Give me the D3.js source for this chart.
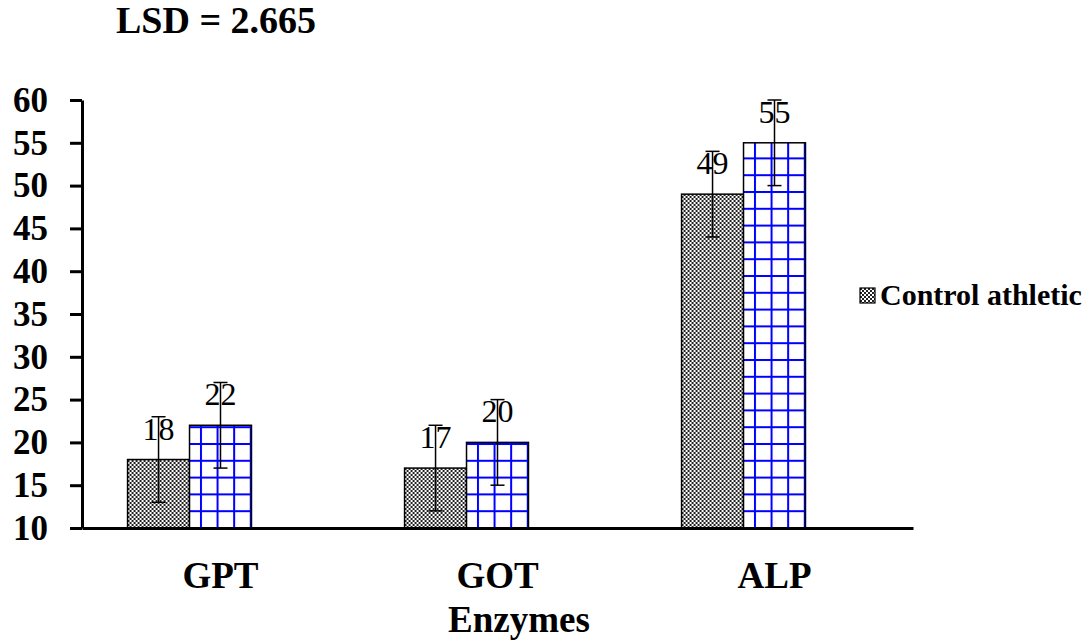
<!DOCTYPE html>
<html>
<head>
<meta charset="utf-8">
<script src="https://cdn.jsdelivr.net/npm/d3@7"></script>
<style>
  body { margin: 0; background: #fff; }
  svg { display: block; font-family: "Liberation Serif", "Times New Roman", serif; }
</style>
</head>
<body>
<div id="chart"></div>
<script>
// chart data
const categories = ["GPT", "GOT", "ALP"]
const controlValues = [18, 17, 49]
const athleticValues = [22, 20, 55]
const errorValues = [5, 5, 5]
const yTicks = [10, 15, 20, 25, 30, 35, 40, 45, 50, 55, 60]
const legendLabel = "Control athletic"
const titleText = "LSD = 2.665"
const xTitle = "Enzymes"

const width = 1091
const height = 642

const svg = d3.select("#chart")
  .append("svg")
  .attr("width", width)
  .attr("height", height)

const defs = svg.append("defs")

// checkerboard fill for control bars
const checker = defs.append("pattern")
  .attr("id", "checker")
  .attr("patternUnits", "userSpaceOnUse")
  .attr("width", 4)
  .attr("height", 4)
checker.append("rect").attr("width", 4).attr("height", 4).attr("fill", "#fff")
checker.append("rect").attr("width", 2).attr("height", 2).attr("fill", "#222")
checker.append("rect").attr("x", 2).attr("y", 2).attr("width", 2).attr("height", 2).attr("fill", "#222")

// blue grid fill for athletic bars
const grid = defs.append("pattern")
  .attr("id", "bluegrid")
  .attr("patternUnits", "userSpaceOnUse")
  .attr("x", 6)
  .attr("y", 527 % 16.8)
  .attr("width", 16.6)
  .attr("height", 16.8)
grid.append("rect").attr("width", 16.6).attr("height", 16.8).attr("fill", "#fff")
grid.append("rect").attr("x", 0).attr("y", 0).attr("width", 2).attr("height", 16.8).attr("fill", "#0000ff")
grid.append("rect").attr("x", 0).attr("y", 0).attr("width", 16.6).attr("height", 2).attr("fill", "#0000ff")

// scales
const y = d3.scaleLinear().domain([10, 60]).range([528, 100])

const x0 = d3.scaleBand()
  .domain(categories)
  .range([82, 913])
  .paddingInner(0.329)
  .paddingOuter(0.1645)

// three slots per category, the last one is empty
const x1 = d3.scaleBand().domain([0, 1, 2]).range([0, x0.bandwidth()])

const rows = categories.map((c, i) => ({
  cat: c,
  control: controlValues[i],
  athletic: athleticValues[i],
  err: errorValues[i]
}))

// bars
const group = svg.selectAll(".cat")
  .data(rows)
  .enter()
  .append("g")
  .attr("transform", d => `translate(${x0(d.cat)},0)`)

const bars = group.selectAll("rect")
  .data(d => [
    { slot: 0, value: d.control, err: d.err, fill: "url(#checker)" },
    { slot: 1, value: d.athletic, err: d.err, fill: "url(#bluegrid)" }
  ])
  .enter()

bars.append("rect")
  .attr("x", d => x1(d.slot))
  .attr("y", d => y(d.value))
  .attr("width", x1.bandwidth())
  .attr("height", d => y(10) - y(d.value))
  .attr("fill", d => d.fill)
  .attr("stroke", "#000")
  .attr("stroke-width", 1.5)

// value labels
bars.append("text")
  .attr("x", d => x1(d.slot) + x1.bandwidth() / 2)
  .attr("y", d => y(d.value) - 20)
  .attr("text-anchor", "middle")
  .attr("font-size", "32px")
  .attr("fill", "#000")
  .text(d => d.value)

// error bars
const errG = bars.append("g")
  .attr("stroke", "#000")
  .attr("stroke-width", 1.5)
errG.append("line")
  .attr("x1", d => x1(d.slot) + x1.bandwidth() / 2)
  .attr("x2", d => x1(d.slot) + x1.bandwidth() / 2)
  .attr("y1", d => y(d.value - d.err))
  .attr("y2", d => y(d.value + d.err))
errG.append("line")
  .attr("x1", d => x1(d.slot) + x1.bandwidth() / 2 - 7)
  .attr("x2", d => x1(d.slot) + x1.bandwidth() / 2 + 7)
  .attr("y1", d => y(d.value - d.err))
  .attr("y2", d => y(d.value - d.err))
errG.append("line")
  .attr("x1", d => x1(d.slot) + x1.bandwidth() / 2 - 7)
  .attr("x2", d => x1(d.slot) + x1.bandwidth() / 2 + 7)
  .attr("y1", d => y(d.value + d.err))
  .attr("y2", d => y(d.value + d.err))

// y axis
const yAxis = d3.axisLeft(y)
  .tickValues(yTicks)
  .tickSize(12)
  .tickSizeOuter(0)
  .tickPadding(22)

const yG = svg.append("g")
  .attr("transform", "translate(82,0)")
  .call(yAxis)
yG.select(".domain").attr("stroke", "#000").attr("stroke-width", 3)
yG.selectAll(".tick line").attr("stroke", "#000").attr("stroke-width", 3)
yG.selectAll(".tick text")
  .attr("font-family", "Liberation Serif, serif")
  .attr("font-size", "35px")
  .attr("font-weight", "bold")
  .attr("fill", "#000")

// x axis (no ticks)
const xAxis = d3.axisBottom(x0).tickSize(0).tickSizeOuter(0).tickPadding(34)
const xG = svg.append("g")
  .attr("transform", `translate(0,${y(10)})`)
  .call(xAxis)
xG.select(".domain").attr("stroke", "#000").attr("stroke-width", 3)
xG.selectAll(".tick text")
  .attr("font-family", "Liberation Serif, serif")
  .attr("font-size", "37px")
  .attr("font-weight", "bold")
  .attr("fill", "#000")

// axis title
svg.append("text")
  .attr("x", 519)
  .attr("y", 632)
  .attr("text-anchor", "middle")
  .attr("font-size", "37px")
  .attr("font-weight", "bold")
  .text(xTitle)

// LSD title
svg.append("text")
  .attr("x", 116)
  .attr("y", 33)
  .attr("font-size", "38px")
  .attr("font-weight", "bold")
  .text(titleText)

// legend
const legend = svg.append("g").attr("transform", "translate(860,288)")
legend.append("rect")
  .attr("width", 15)
  .attr("height", 15)
  .attr("fill", "url(#checker)")
  .attr("stroke", "#000")
  .attr("stroke-width", 1.2)
legend.append("text")
  .attr("x", 20)
  .attr("y", 17)
  .attr("font-size", "30px")
  .attr("font-weight", "bold")
  .text(legendLabel)
</script>
</body>
</html>
